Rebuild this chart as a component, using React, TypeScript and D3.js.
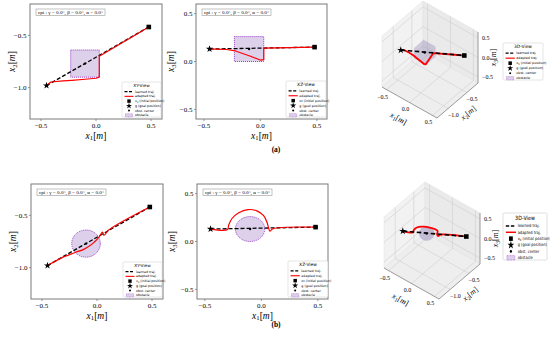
import React from 'react';
import * as d3 from 'd3';

type P3 = [number, number, number];

// positions, [x1, x2, x3] in metres
const goalPos: P3 = [-0.45, -0.98, 0.13];
const initPos: P3 = [0.48, -0.42, 0.15];
const obstCenter: P3 = [-0.1, -0.77, 0.13];
const obstRadius = 0.13;

const learnedTraj: P3[] = [goalPos, initPos];

// (a) box obstacle
const adaptedTrajA: P3[] = [
    [0.48, -0.42, 0.15],
    [0.03, -0.70, 0.14],
    [0.03, -0.90, 0.02],
    [0.0, -0.91, 0.015],
    [-0.10, -0.92, 0.06],
    [-0.22, -0.93, 0.11],
    [-0.30, -0.935, 0.125],
    [-0.41, -0.946, 0.13],
    [-0.45, -0.98, 0.13]
];

// (b) sphere obstacle
const adaptedTrajB: P3[] = [
    [-0.45, -0.98, 0.13],
    [-0.30, -0.895, 0.125],
    [-0.29, -0.892, 0.17],
    [-0.26, -0.88, 0.24],
    [-0.20, -0.855, 0.30],
    [-0.12, -0.825, 0.333],
    [-0.04, -0.77, 0.32],
    [0.02, -0.705, 0.27],
    [0.05, -0.66, 0.2],
    [0.062, -0.69, 0.15],
    [0.076, -0.68, 0.107],
    [0.10, -0.645, 0.132],
    [0.48, -0.42, 0.15]
];

const x1Ticks = [-0.5, 0.0, 0.5];
const x2Ticks = [-1.0, -0.5];
const x3Ticks = [-0.5, 0.0, 0.5];

const legendItems = ['learned traj.', 'adapted traj.', 'x0', 'g (goal position)', 'obst. center', 'obstacle'];
const cpiText = 'cpi : γ = 0.0°, β = 0.0°, α = 0.0°';
const captions = ['(a)', '(b)'];

const fmt = d3.format('.1f');
const SERIF = '"Liberation Serif", "DejaVu Serif", serif';
const SANS = '"DejaVu Sans", sans-serif';
const OBST_FILL = '#ddd0ea';
const OBST_EDGE = '#9b3cc8';

const AxisLabel = ({ x, y, sub, rotate = 0, size = 10 }: any) => (
    <text x={x} y={y} fontFamily={SERIF} fontSize={size} textAnchor="middle"
        transform={rotate ? `rotate(${rotate},${x},${y})` : undefined}>
        <tspan fontStyle="italic">x</tspan>
        <tspan fontSize={size * 0.7} dy={size * 0.2}>{sub}</tspan>
        <tspan dy={-size * 0.2}>[</tspan>
        <tspan fontStyle="italic">m</tspan>
        <tspan>]</tspan>
    </text>
);

// legend drawn in a 39x35 box, scaled to fit
function Legend({ x, y, w, h, title }: any) {
    const sx = w / 39;
    const sy = h / 35;
    const W = 39;
    const rowH = 4.75;
    const hx = 2.5;
    const tx = 13;
    return (
        <g transform={`translate(${x},${y}) scale(${sx},${sy})`}>
            <rect x={0} y={0} width={W} height={35} fill="white" fillOpacity={0.85} stroke="#cccccc" strokeWidth={0.5} rx={1} />
            <text x={W / 2} y={5} fontSize={4.3} textAnchor="middle" fontFamily={SANS}>{title}</text>
            {legendItems.map((label, i) => {
                const cy = 9.6 + i * rowH;
                let handle: any = null;
                if (i === 0) {
                    handle = <line x1={hx} x2={hx + 9} y1={cy} y2={cy} stroke="black" strokeWidth={1.1} strokeDasharray="3,1.5" />;
                } else if (i === 1) {
                    handle = <line x1={hx} x2={hx + 9} y1={cy} y2={cy} stroke="red" strokeWidth={1.1} />;
                } else if (i === 2) {
                    handle = <rect x={hx + 2.8} y={cy - 1.7} width={3.4} height={3.4} fill="black" />;
                } else if (i === 3) {
                    handle = <path d={d3.symbol(d3.symbolStar, 11)() as string} transform={`translate(${hx + 4.5},${cy})`} fill="black" />;
                } else if (i === 4) {
                    handle = <circle cx={hx + 4.5} cy={cy} r={1} fill="black" />;
                } else {
                    handle = <rect x={hx + 1} y={cy - 1.6} width={7} height={3.2} fill={OBST_FILL} stroke={OBST_EDGE} strokeWidth={0.5} strokeDasharray="0.7,0.7" />;
                }
                return (
                    <g key={label}>
                        {handle}
                        <text x={tx} y={cy + 1.1} fontSize={3.2} fontFamily={SANS}>
                            {i === 2 ? (<><tspan>x</tspan><tspan fontSize={2.2} dy={0.6}>0</tspan><tspan dy={-0.6}> (initial position)</tspan></>) : label}
                        </text>
                    </g>
                );
            })}
        </g>
    );
}

function Markers({ px }: { px: (p: P3) => [number, number] }) {
    const g = px(goalPos);
    const s = px(initPos);
    const c = px(obstCenter);
    return (
        <g>
            <circle cx={c[0]} cy={c[1]} r={1.2} fill="black" />
            <rect x={s[0] - 2.3} y={s[1] - 2.3} width={4.6} height={4.6} fill="black" />
            <path d={d3.symbol(d3.symbolStar, 16)() as string} transform={`translate(${g[0]},${g[1]})`} fill="black" />
        </g>
    );
}

function Panel2D({ left, top, width, height, xDomain, yDomain, yTicks, dim, traj, shape, title, ySub, yLabOff, legend }: any) {
    const x = d3.scaleLinear().domain(xDomain).range([left, left + width]);
    const y = d3.scaleLinear().domain(yDomain).range([top + height, top]);
    const px = (p: P3): [number, number] => [x(p[0]), y(p[dim])];
    const line = d3.line<P3>().x((p) => x(p[0])).y((p) => y(p[dim]));
    if (shape === 'sphere') line.curve(d3.curveCatmullRom.alpha(0.5));

    let obstacle: any;
    if (shape === 'box') {
        obstacle = (
            <rect x={x(obstCenter[0] - obstRadius)} y={y(obstCenter[dim] + obstRadius)}
                width={x(obstCenter[0] + obstRadius) - x(obstCenter[0] - obstRadius)}
                height={y(obstCenter[dim] - obstRadius) - y(obstCenter[dim] + obstRadius)}
                fill={OBST_FILL} stroke={OBST_EDGE} strokeWidth={1} strokeDasharray="1,1" />
        );
    } else {
        obstacle = (
            <ellipse cx={x(obstCenter[0])} cy={y(obstCenter[dim])}
                rx={x(obstRadius) - x(0)} ry={y(0) - y(obstRadius)}
                fill={OBST_FILL} stroke={OBST_EDGE} strokeWidth={1} strokeDasharray="1,1" />
        );
    }

    return (
        <g>
            <rect x={left} y={top} width={width} height={height} fill="white" stroke="#7a7a7a" strokeWidth={1} />
            {x1Ticks.map((t) => (
                <g key={'x' + t}>
                    <line x1={x(t)} x2={x(t)} y1={top + height} y2={top + height + 2} stroke="#7a7a7a" strokeWidth={0.8} />
                    <text x={x(t)} y={top + height + 8.5} fontSize={7} fontFamily={SERIF} textAnchor="middle">{fmt(t)}</text>
                </g>
            ))}
            {yTicks.map((t: number) => (
                <g key={'y' + t}>
                    <line x1={left - 2} x2={left} y1={y(t)} y2={y(t)} stroke="#7a7a7a" strokeWidth={0.8} />
                    <text x={left - 3.5} y={y(t) + 2.4} fontSize={7} fontFamily={SERIF} textAnchor="end">{fmt(t)}</text>
                </g>
            ))}
            <AxisLabel x={left + width / 2} y={top + height + 19.5} sub="1" size={9.5} />
            <AxisLabel x={left - yLabOff} y={top + height / 2} sub={ySub} rotate={-90} size={9.5} />

            <rect x={left + 6} y={top + 5} width={69} height={6.5} fill="white" stroke="#999999" strokeWidth={0.6} />
            <text x={left + 8} y={top + 9.6} fontSize={3.6} fontFamily={SERIF} textLength={65} lengthAdjust="spacingAndGlyphs">{cpiText}</text>

            {obstacle}
            <path d={line(learnedTraj) as string} fill="none" stroke="black" strokeWidth={1.3} strokeDasharray="4,2" />
            <path d={line(traj) as string} fill="none" stroke="red" strokeWidth={1.2} strokeLinejoin="round" />
            <Markers px={px} />
            <Legend {...legend} title={title} />
        </g>
    );
}

const EX: [number, number] = [27.5, 15.5];
const EY: [number, number] = [20.5, -17.5];
const EZ: [number, number] = [0, -25.5];

function Panel3D({ cx, cy, traj, shape, legend }: any) {
    const xn = d3.scaleLinear().domain([-0.6, 0.6]).range([-1, 1]);
    const yn = d3.scaleLinear().domain([-1.3, -0.2]).range([-1, 1]);
    const zn = d3.scaleLinear().domain([-0.65, 0.65]).range([-1, 1]);
    const P = (p: P3): [number, number] => {
        const a = xn(p[0]), b = yn(p[1]), c = zn(p[2]);
        return [cx + a * EX[0] + b * EY[0] + c * EZ[0], cy + a * EX[1] + b * EY[1] + c * EZ[1]];
    };
    const [xa, xb] = xn.domain();
    const [ya, yb] = yn.domain();
    const [za, zb] = zn.domain();
    const poly = (pts: P3[]) => pts.map(P).map((q) => q.join(',')).join(' ');
    const seg = (a: P3, b: P3, key: string, stroke: string, sw: number) => {
        const p = P(a), q = P(b);
        return <line key={key} x1={p[0]} y1={p[1]} x2={q[0]} y2={q[1]} stroke={stroke} strokeWidth={sw} />;
    };
    const line = d3.line<P3>().x((p) => P(p)[0]).y((p) => P(p)[1]);
    if (shape === 'sphere') line.curve(d3.curveCatmullRom.alpha(0.5));
    const GRID = '#cfcfcf';

    const grid: any[] = [];
    x3Ticks.forEach((t) => {
        grid.push(seg([xa, ya, t], [xa, yb, t], 'lz' + t, GRID, 0.6));
        grid.push(seg([xa, yb, t], [xb, yb, t], 'rz' + t, GRID, 0.6));
    });
    x2Ticks.forEach((t) => {
        grid.push(seg([xa, t, za], [xa, t, zb], 'ly' + t, GRID, 0.6));
        grid.push(seg([xa, t, za], [xb, t, za], 'fy' + t, GRID, 0.6));
    });
    x1Ticks.forEach((t) => {
        grid.push(seg([t, yb, za], [t, yb, zb], 'rx' + t, GRID, 0.6));
        grid.push(seg([t, ya, za], [t, yb, za], 'fx' + t, GRID, 0.6));
    });

    // obstacle surfaces
    let obstacle: any;
    const [oc0, oc1, oc2] = obstCenter;
    const r = obstRadius;
    if (shape === 'box') {
        const faces: P3[][] = [
            [[oc0 - r, oc1 - r, oc2 - r], [oc0 + r, oc1 - r, oc2 - r], [oc0 + r, oc1 + r, oc2 - r], [oc0 - r, oc1 + r, oc2 - r]],
            [[oc0 - r, oc1 - r, oc2 + r], [oc0 + r, oc1 - r, oc2 + r], [oc0 + r, oc1 + r, oc2 + r], [oc0 - r, oc1 + r, oc2 + r]],
            [[oc0 - r, oc1 - r, oc2 - r], [oc0 - r, oc1 + r, oc2 - r], [oc0 - r, oc1 + r, oc2 + r], [oc0 - r, oc1 - r, oc2 + r]],
            [[oc0 + r, oc1 - r, oc2 - r], [oc0 + r, oc1 + r, oc2 - r], [oc0 + r, oc1 + r, oc2 + r], [oc0 + r, oc1 - r, oc2 + r]],
            [[oc0 - r, oc1 - r, oc2 - r], [oc0 + r, oc1 - r, oc2 - r], [oc0 + r, oc1 - r, oc2 + r], [oc0 - r, oc1 - r, oc2 + r]],
            [[oc0 - r, oc1 + r, oc2 - r], [oc0 + r, oc1 + r, oc2 - r], [oc0 + r, oc1 + r, oc2 + r], [oc0 - r, oc1 + r, oc2 + r]]
        ];
        obstacle = faces.map((f, i) => <polygon key={i} points={poly(f)} fill="#7a6aa8" fillOpacity={0.16} />);
    } else {
        const pts: [number, number][] = [];
        for (let i = 0; i <= 24; i++) {
            for (let j = 0; j <= 12; j++) {
                const th = (i / 24) * 2 * Math.PI, ph = (j / 12) * Math.PI;
                pts.push(P([oc0 + r * Math.sin(ph) * Math.cos(th), oc1 + r * Math.sin(ph) * Math.sin(th), oc2 + r * Math.cos(ph)]));
            }
        }
        const hull = d3.polygonHull(pts) || [];
        obstacle = <polygon points={hull.map((q) => q.join(',')).join(' ')} fill="#a89cc4" fillOpacity={0.6} />;
    }

    const outX = [-0.49, 0.87];
    const outY = [0.65, 0.76];
    return (
        <g>
            <polygon points={poly([[xa, ya, za], [xa, yb, za], [xa, yb, zb], [xa, ya, zb]])} fill="#f2f2f2" stroke="#e0e0e0" strokeWidth={0.5} />
            <polygon points={poly([[xa, yb, za], [xb, yb, za], [xb, yb, zb], [xa, yb, zb]])} fill="#eaeaea" stroke="#e0e0e0" strokeWidth={0.5} />
            <polygon points={poly([[xa, ya, za], [xb, ya, za], [xb, yb, za], [xa, yb, za]])} fill="#eeeeee" stroke="#e0e0e0" strokeWidth={0.5} />
            {grid}
            {seg([xa, ya, za], [xb, ya, za], 'ax', '#666', 0.6)}
            {seg([xb, ya, za], [xb, yb, za], 'ay', '#666', 0.6)}
            {seg([xb, yb, za], [xb, yb, zb], 'az', '#666', 0.6)}
            {x1Ticks.map((t) => {
                const p = P([t, ya, za]);
                return <text key={'tx' + t} x={p[0] + outX[0] * 8} y={p[1] + outX[1] * 8 + 2} fontSize={6} fontFamily={SERIF} textAnchor="middle">{fmt(t)}</text>;
            })}
            {x2Ticks.map((t) => {
                const p = P([xb, t, za]);
                return <text key={'ty' + t} x={p[0] + outY[0] * 8} y={p[1] + outY[1] * 8 + 2} fontSize={6} fontFamily={SERIF} textAnchor="middle">{fmt(t)}</text>;
            })}
            {x3Ticks.map((t) => {
                const p = P([xb, yb, t]);
                return <text key={'tz' + t} x={p[0] + 4} y={p[1] + 2} fontSize={6} fontFamily={SERIF} textAnchor="start">{fmt(t)}</text>;
            })}
            {(() => {
                const mx = P([(xa + xb) / 2, ya, za]);
                const my = P([xb, (ya + yb) / 2, za]);
                const mz = P([xb, yb, (za + zb) / 2]);
                return (
                    <g>
                        <AxisLabel x={mx[0] + outX[0] * 21 - 2} y={mx[1] + outX[1] * 21} sub="1" size={8} rotate={29} />
                        <AxisLabel x={my[0] + outY[0] * 19} y={my[1] + outY[1] * 19} sub="2" size={8} rotate={-40} />
                        <AxisLabel x={mz[0] + 18} y={mz[1]} sub="3" size={8} rotate={-90} />
                    </g>
                );
            })()}
            {obstacle}
            <path d={line(traj) as string} fill="none" stroke="red" strokeWidth={1.8} strokeLinejoin="round" />
            <path d={line(learnedTraj) as string} fill="none" stroke="black" strokeWidth={1.6} strokeDasharray="4.5,2.5" />
            <Markers px={P} />
            <Legend {...legend} title="3D-View" />
        </g>
    );
}

export default function App() {
    const rows = [
        { dy: 0, dx3: 0, traj: adaptedTrajA, shape: 'box', leg3: { x: 503, y: 43, w: 40, h: 37 }, capY: 152 },
        { dy: 180, dx3: 2, traj: adaptedTrajB, shape: 'sphere', leg3: { x: 503, y: 213, w: 44, h: 47 }, capY: 327 }
    ];
    return (
        <svg width={550} height={344} style={{ position: 'absolute', left: 0, top: 0, background: 'white' }}>
            {rows.map((r, i) => (
                <g key={i}>
                    <Panel2D left={30 + (i ? 1 : 0)} top={4 + r.dy} width={132} height={115}
                        xDomain={[-0.6, 0.6]} yDomain={[-1.3, -0.2]} yTicks={[-1.0, -0.5]} dim={1}
                        traj={r.traj} shape={r.shape} title="XY-View" ySub="2" yLabOff={15}
                        legend={{ x: 122 + (i ? 1 : 0), y: 82 + r.dy, w: 39, h: 35 }} />
                    <Panel2D left={196 + (i ? 1 : 0)} top={4 + r.dy} width={131} height={115}
                        xDomain={[-0.57, 0.59]} yDomain={[-0.6, 0.6]} yTicks={[-0.5, 0.0, 0.5]} dim={2}
                        traj={r.traj} shape={r.shape} title="XZ-View" ySub="3" yLabOff={22}
                        legend={{ x: 286 + (i ? 2 : 0), y: 81 + r.dy, w: 40, h: 36 }} />
                    <Panel3D cx={430 + r.dx3} cy={59.5 + r.dy + (i ? 1 : 0)} traj={r.traj} shape={r.shape}
                        legend={r.leg3} />
                    <text x={276} y={r.capY} fontSize={7.5} fontWeight="bold" fontFamily={SERIF} textAnchor="middle">{captions[i]}</text>
                </g>
            ))}
        </svg>
    );
}
